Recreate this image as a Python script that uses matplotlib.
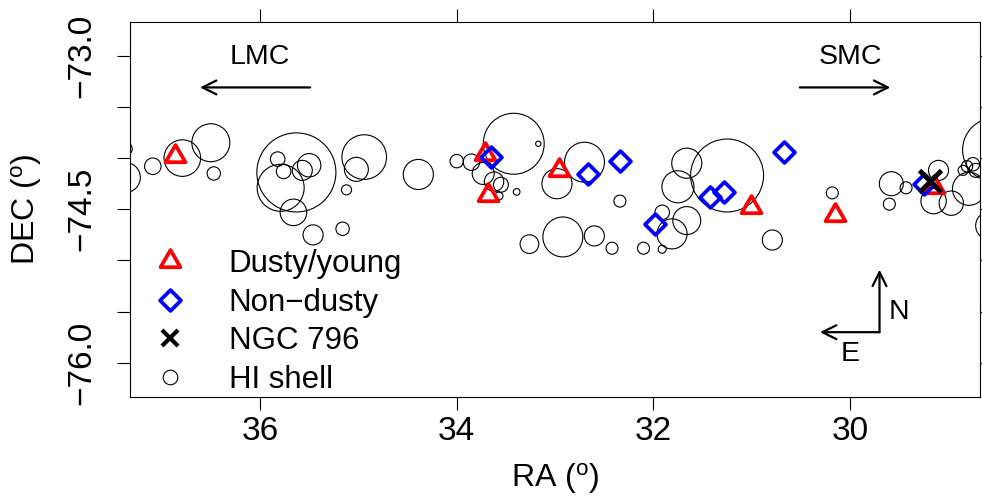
import numpy as np
import matplotlib
matplotlib.use('Agg')
import matplotlib.pyplot as plt
from matplotlib.collections import EllipseCollection
from matplotlib.lines import Line2D
from matplotlib.path import Path

plt.rcParams['font.family'] = ['Liberation Sans', 'DejaVu Sans']
plt.rcParams['mathtext.fontset'] = 'custom'
plt.rcParams['mathtext.rm'] = 'Liberation Sans'
plt.rcParams['mathtext.it'] = 'Liberation Sans:italic'

# ---------------- data ----------------
# HI shells: centre (RA, DEC) and radius (deg)
shell_ra = [37.37, 37.36, 37.09, 36.79, 36.50, 36.47, 35.63, 35.79, 35.82, 35.76,
            35.50, 35.57, 35.66, 35.46, 35.16, 35.12, 34.94, 35.02, 34.39, 33.42,
            33.17, 34.00, 33.85, 33.73, 33.62, 33.55, 33.39, 33.57, 33.26, 32.92,
            32.98, 32.70, 32.34, 32.60, 32.42, 32.10, 31.91, 31.91, 31.81, 31.66,
            31.66, 31.75, 31.25, 30.79, 30.18, 29.58, 29.43, 29.60, 29.10, 29.15,
            28.97, 28.79, 28.85, 28.81, 28.75, 28.72, 28.53, 28.58]
shell_dec = [-74.19, -73.91, -74.08, -74.00, -73.85, -74.15, -74.14, -74.29, -74.01, -74.13,
             -74.07, -74.12, -74.53, -74.75, -74.69, -74.31, -73.99, -74.11, -74.16, -73.86,
             -73.86, -74.03, -74.04, -74.15, -74.23, -74.26, -74.33, -74.37, -74.84, -74.77,
             -74.25, -74.04, -74.42, -74.76, -74.88, -74.88, -74.89, -74.53, -74.74, -74.61,
             -74.05, -74.28, -74.17, -74.80, -74.34, -74.25, -74.29, -74.45, -74.12, -74.42,
             -74.44, -74.30, -74.12, -74.08, -74.06, -74.12, -73.92, -74.66]
shell_radius = [0.153, 0.061, 0.084, 0.186, 0.193, 0.068, 0.402, 0.239, 0.074, 0.074,
                0.119, 0.102, 0.135, 0.102, 0.068, 0.051, 0.227, 0.122, 0.153, 0.310,
                0.027, 0.068, 0.084, 0.112, 0.099, 0.076, 0.034, 0.041, 0.095, 0.203,
                0.153, 0.203, 0.061, 0.102, 0.061, 0.061, 0.041, 0.074, 0.153, 0.142,
                0.153, 0.163, 0.371, 0.102, 0.061, 0.122, 0.061, 0.061, 0.102, 0.129,
                0.124, 0.168, 0.051, 0.058, 0.068, 0.071, 0.325, 0.142]

dusty_ra = [36.86, 33.71, 33.68, 32.96, 31.01, 30.15, 29.15]
dusty_dec = [-73.98, -73.96, -74.36, -74.12, -74.48, -74.56, -74.28]

nondusty_ra = [33.65, 32.66, 32.34, 31.98, 31.42, 31.28, 30.67, 29.25]
nondusty_dec = [-73.99, -74.16, -74.03, -74.64, -74.38, -74.33, -73.94, -74.25]

ngc_ra = [29.19]
ngc_dec = [-74.22]

x_ticks = [36, 34, 32, 30]
y_ticks = [-73.0, -73.5, -74.0, -74.5, -75.0, -75.5, -76.0]
y_tick_labels = ['\u221273.0', '', '', '\u221274.5', '', '', '\u221276.0']
legend_labels = ['Dusty/young', 'Non\u2212dusty', 'NGC 796', 'HI shell']

# ---------------- figure ----------------
fig = plt.figure(figsize=(9.82, 4.96), dpi=100)
ax = fig.add_axes([130 / 982, 99 / 496, 850 / 982, 375 / 496])
ax.set_xlim(37.322, 28.678)
ax.set_ylim(-76.333, -72.671)

# HI shells as true circles (radius in RA-axis units)
diam = 2 * np.asarray(shell_radius)
ec = EllipseCollection(diam, diam, np.zeros_like(diam), units='x',
                       offsets=np.column_stack([shell_ra, shell_dec]),
                       offset_transform=ax.transData,
                       facecolors='none', edgecolors='black', linewidths=0.8)
ax.add_collection(ec)

tri = Path([(0, 2), (-1.732, -1), (1.732, -1), (0, 2)],
           [Path.MOVETO, Path.LINETO, Path.LINETO, Path.CLOSEPOLY])
dia = Path([(0, 1), (1, 0), (0, -1), (-1, 0), (0, 1)],
           [Path.MOVETO, Path.LINETO, Path.LINETO, Path.LINETO, Path.CLOSEPOLY])

ax.plot(dusty_ra, dusty_dec, linestyle='none', marker=tri, markersize=16.5,
        markerfacecolor='none', markeredgecolor='red', markeredgewidth=2.7)
ax.plot(nondusty_ra, nondusty_dec, linestyle='none', marker=dia, markersize=15.0,
        markerfacecolor='none', markeredgecolor='blue', markeredgewidth=2.7)
ax.plot(ngc_ra, ngc_dec, linestyle='none', marker='x', markersize=16,
        markeredgecolor='black', markeredgewidth=3.5)

# LMC / SMC directions
arrow_kw = dict(arrowstyle='->,head_length=1.0,head_width=0.5', lw=1.6,
                color='black', shrinkA=0, shrinkB=0)
ax.annotate('', xy=(36.61, -73.31), xytext=(35.49, -73.31), arrowprops=arrow_kw)
ax.annotate('', xy=(29.59, -73.31), xytext=(30.51, -73.31), arrowprops=arrow_kw)
ax.text(36.0, -73.01, 'LMC', fontsize=20.5, ha='center', va='center')
ax.text(30.0, -73.01, 'SMC', fontsize=20.5, ha='center', va='center')

# compass
ax.annotate('', xy=(29.70, -75.09), xytext=(29.70, -75.70), arrowprops=arrow_kw)
ax.annotate('', xy=(30.305, -75.70), xytext=(29.70, -75.70), arrowprops=arrow_kw)
ax.text(29.50, -75.50, 'N', fontsize=20.5, ha='center', va='center')
ax.text(30.00, -75.91, 'E', fontsize=20.5, ha='center', va='center')

# legend
handles = [
    Line2D([], [], linestyle='none', marker=tri, markersize=16.5, markerfacecolor='none',
           markeredgecolor='red', markeredgewidth=2.7),
    Line2D([], [], linestyle='none', marker=dia, markersize=15.0, markerfacecolor='none',
           markeredgecolor='blue', markeredgewidth=2.7),
    Line2D([], [], linestyle='none', marker='x', markersize=12, markeredgecolor='black',
           markeredgewidth=3.0),
    Line2D([], [], linestyle='none', marker='o', markersize=10.5, markerfacecolor='none',
           markeredgecolor='black', markeredgewidth=0.8),
]
ax.legend(handles, legend_labels, loc='upper left', bbox_to_anchor=(0.0287, 0.395),
          frameon=False, fontsize=22.5, handlelength=1.0, handletextpad=1.38,
          labelspacing=0.28, borderpad=0, borderaxespad=0)

# axes styling
ax.set_xticks(x_ticks)
ax.set_xticklabels([str(t) for t in x_ticks])
ax.set_yticks(y_ticks)
ax.set_yticklabels(y_tick_labels, rotation=90, va='center', ha='right')
ax.tick_params(axis='both', which='major', direction='out', length=9.4, width=0.8,
               top=True, right=True, labeltop=False, labelright=False, labelsize=24)
ax.tick_params(axis='x', pad=4)
ax.tick_params(axis='y', pad=14)
for s in ax.spines.values():
    s.set_linewidth(0.8)

ax.set_xlabel(r'RA ($^{\mathrm{o}}$)', fontsize=23, va='center')
ax.set_ylabel(r'DEC ($^{\mathrm{o}}$)', fontsize=23, va='center')
ax.xaxis.set_label_coords(0.5, -0.218)
ax.yaxis.set_label_coords(-0.122, 0.5)

fig.savefig('out.png', dpi=100)
